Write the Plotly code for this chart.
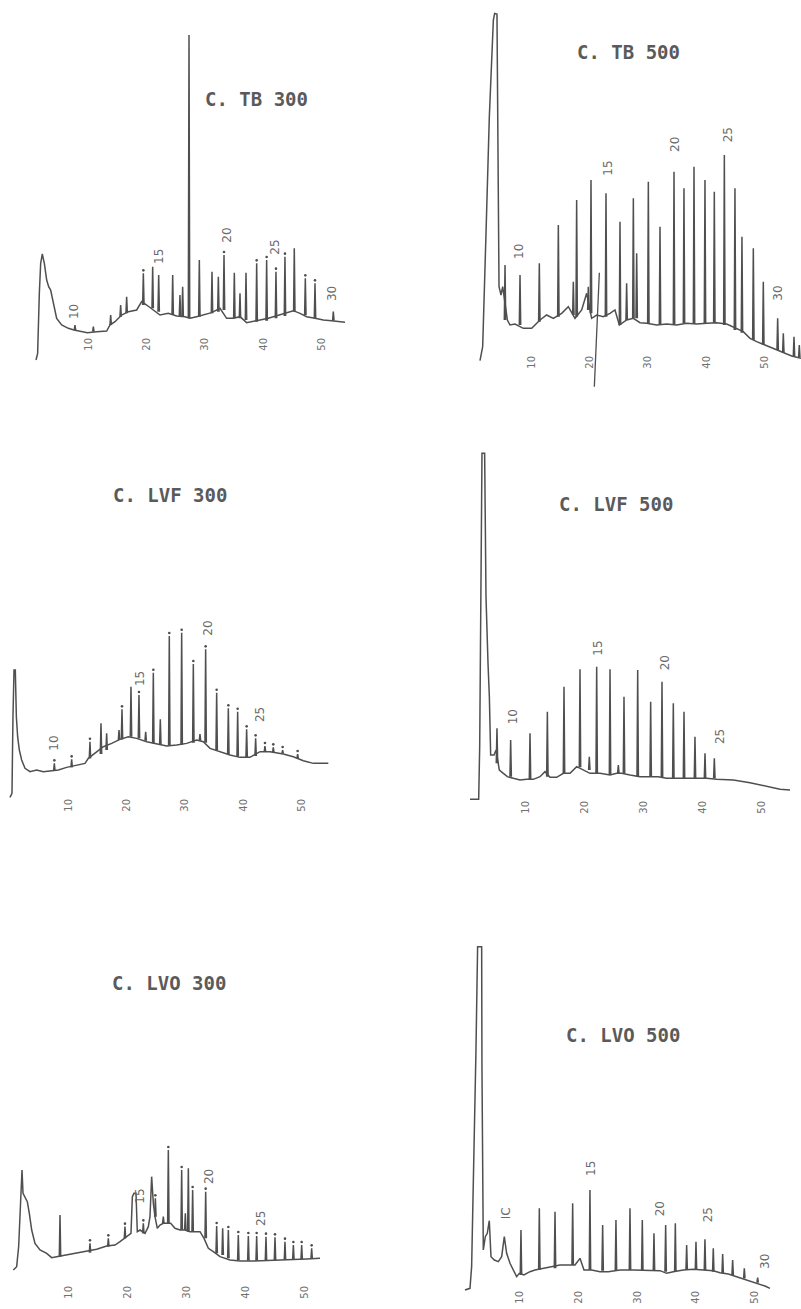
import plotly.graph_objects as go

# ---------------- DATA (retention time in min, detector response in arbitrary units) -------------
TICK_VALS = [10, 20, 30, 40, 50]
TICK_TEXT = ["10", "20", "30", "40", "50"]

# C. TB 300
P1_base_t = [1.03,1.31,1.6,1.83,2.11,2.46,2.86,3.2,3.54,4.0,4.57,5.43,6.57,7.54,8.57,9.83,11.43,13.14,13.71,14.57,15.71,16.86,18.29,19.14,20.0,21.14,22.29,23.71,25.14,26.57,27.43,28.57,29.71,31.14,32.57,33.71,34.86,36.0,37.14,38.29,39.43,40.86,42.29,43.71,45.14,46.29,47.43,48.86,50.29,51.71,52.86,54.0]
P1_base_v = [0,2,20,29,31.8,29,24,22,21,17,12.5,10.5,9.5,9,8.7,8.2,8.5,8.7,10.5,11.5,13.5,14.5,15,17.5,16.5,15,13.5,14,13.2,13,12.5,13,13.5,14.2,15.5,12.5,12.5,13,11.2,11.5,12,12.5,13.2,14,14.8,14,13,12.5,12,11.8,11.5,11.3]
P1_peak_t = [7.71,10.86,13.83,15.54,16.57,19.43,21.03,22.06,24.46,25.71,26.17,27.26,29.03,31.2,32.29,33.26,35.03,36.0,37.03,38.86,40.57,42.17,43.71,45.31,47.2,48.86,52.0]
P1_peak_top = [10.5,10,13.5,16.5,19,26,28,25.5,25.5,19.5,22,97.5,30,26.5,25,31.5,26.2,20,26.2,29,30,26.5,31,33.5,24.5,23,14.5]
P1_peak_base = [9,8.5,10.5,13,14,16.5,15.5,14.5,13.5,13.2,13.2,12.5,13,14,14.5,15,12.5,12.5,12,11.5,11.8,12.5,13.2,14.5,13.5,12.5,11.8]
P1_peak_dot = [0,0,0,0,0,1,0,0,0,0,0,0,0,0,0,1,0,0,0,1,1,1,1,0,1,1,0]
P1_lab_text = ["10","15","20","25","30"]
P1_lab_t = [7.43,22.0,33.71,42.0,51.9]
P1_lab_v = [14.5,31,37.5,34,20]

# C. TB 500
P2_base_t = [1.2,1.66,2.23,2.8,3.49,3.71,4.11,4.23,4.29,4.46,4.8,5.09,5.89,6.34,7.2,8.63,10.06,11.49,12.63,13.77,15.2,16.34,17.49,18.63,19.49,20.34,21.2,22.34,23.49,24.34,25.09,26.34,27.49,28.63,29.77,31.49,33.2,34.91,36.63,38.34,40.06,41.77,43.49,45.2,46.34,47.49,48.63,50.06,51.49,53.2,54.63,56.23]
P2_base_v = [-0.2,4,38,73,102,104,103.8,78,46,22,19.5,22,12,10.5,10.8,9.5,9.5,12,13.5,12.5,14,16,12.5,15,20,12.5,13.5,13,14,15,10.5,12,12.5,11.2,11,10.5,10.8,10.5,11,10.8,11,11.2,10.8,9.5,8.5,6.5,5.5,4.5,3.5,2.2,1.2,0.5]
P2_peak_t = [5.49,8.06,11.37,14.63,17.2,17.77,19.77,20.23,22.8,25.2,26.34,27.49,28.06,30.06,32.06,34.46,36.17,37.89,39.77,41.37,43.09,44.91,46.11,48.06,49.77,52.23,53.2,55.03,55.94]
P2_peak_top = [28.5,25.5,29,40.5,23.5,48,22,54,50,41.5,23,48.5,32,53.5,40,56.5,51.5,58,54,50.5,61.5,51.5,37,33.5,23.5,12.5,8,7,4.5]
P2_peak_base = [12,10.5,11.5,13,13.5,13,15,14,13,10.5,12,12.5,12.5,11,10.8,10.5,11,10.8,11,11.2,10.5,9,8.2,6,4.5,3,2.2,1.2,0.8]
P2_peak_dot = [0]*29
P2_stroke_t = [21.66, 20.8]
P2_stroke_v = [26.2, -8]
P2_lab_text = ["10","15","20","25","30"]
P2_lab_t = [7.77,23.2,34.63,43.77,52.34]
P2_lab_v = [32.5,57.5,64.5,67.5,20]

# C. LVF 300
P3_base_t = [0,0.34,0.51,0.69,0.91,1.09,1.31,1.6,2.0,2.57,3.43,4.57,5.71,6.86,8.29,9.71,11.43,12.86,13.43,14.57,16.0,17.43,18.86,20.29,21.71,23.43,25.14,26.86,28.57,30.29,32.0,33.14,34.29,36.0,37.71,39.43,41.14,42.86,44.57,46.86,48.57,50.29,52.0,54.57]
P3_base_v = [-0.2,1,24,38,38,24,18,14,11,8.5,7.5,8,7.5,7.8,8,8.8,9.5,10,11.5,13,15,16,17.2,18,17.5,16.5,15.8,15.2,15.5,16,17,16.5,14.5,13.5,12.5,11.8,11.8,13.5,13.5,12.8,12,10.8,10,10]
P3_peak_t = [7.6,10.57,13.71,15.6,16.57,18.69,19.2,20.74,22.11,23.26,24.57,25.77,27.31,29.43,31.43,32.57,33.54,35.43,37.43,39.03,40.57,42.11,43.71,45.14,46.74,49.31]
P3_peak_top = [10,11.2,16.5,22,19,20,26.2,33,30.5,19.5,37.2,23.2,48.2,49.2,39.8,18.8,44.2,31.2,26.5,25.5,20.2,17.5,15.2,14.8,14,12.8]
P3_peak_base = [7.8,8.8,11.5,12.8,14,17,17.2,18,17.5,16.8,16,15.5,15.2,15.5,16.2,16.8,16.2,14,12.8,12,11.8,12.2,13.5,13.3,13,11.5]
P3_peak_dot = [1,1,1,0,0,0,1,0,1,0,1,0,1,1,1,0,1,1,1,1,1,1,1,1,1,1]
P3_lab_text = ["10","15","20","25"]
P3_lab_t = [7.54,22.4,34.0,42.86]
P3_lab_v = [16.2,35.5,50.5,24.5]

# C. LVF 500
P4_base_t = [0.51,1.98,2.15,2.37,2.54,2.99,3.22,3.56,3.79,4.01,4.58,4.92,5.48,6.16,6.84,7.85,8.98,10.11,11.24,12.37,13.22,14.07,15.2,16.33,17.46,18.59,19.6,20.85,22.54,24.24,25.37,26.21,27.63,29.32,31.02,32.43,33.84,35.54,37.23,38.93,40.62,42.32,45.14,47.97,50.79,53.05,54.75]
P4_base_v = [0.2,0.2,16,61,104,104,61,41,31,13.5,13.5,15,9,8,7,6.5,6,6.2,6.2,7,8.5,6.8,6.8,8,8,10,9,8,8,7.5,8,8,7.5,7,7,7,6.5,6.5,6.5,6.5,6.5,6.2,6,5.2,4,3.2,3]
P4_peak_t = [5.08,7.4,10.68,13.62,16.44,19.15,20.73,21.98,24.24,25.65,26.61,28.93,31.13,33.05,34.97,36.78,38.64,40.34,41.92]
P4_peak_top = [21.5,18,20,26.5,34,39.2,13,40,39.2,10.5,31,39,29.5,35.5,29,26.5,19,14,12.5]
P4_peak_base = [11,7,6.2,7,8,9.8,9,8,7.5,8,8,7,7,6.8,6.5,6.5,6.5,6.5,6.5]
P4_peak_dot = [0]*19
P4_lab_text = ["10","15","20","25"]
P4_lab_t = [7.74,22.26,33.56,42.77]
P4_lab_v = [25,45.5,41,19]

# C. LVO 300
P5_base_t = [0.68,1.24,1.58,1.81,1.98,2.15,2.32,2.66,3.05,3.39,3.79,4.35,5.2,6.33,7.18,8.02,9.72,11.41,13.11,14.8,16.5,17.91,18.76,19.89,20.62,20.85,21.13,21.47,21.69,22.15,23.0,23.56,23.84,24.12,24.41,24.69,25.08,25.54,26.1,26.67,27.34,28.08,28.93,29.77,30.62,31.47,32.32,33.0,33.73,34.58,35.71,37.4,39.1,41.36,43.62,45.88,48.14,50.4,52.66]
P5_base_v = [0,1,7,17,23,30,23,22,20.5,17,12,8,6,5,3.7,4,4.5,5,5.5,6.2,7.2,7.5,8.5,10,11,22,23,23,11.5,12,11,13,16,28,20,16,12.5,13.5,14,14,14,12.5,12,12,11.5,11.5,11.5,9.5,6.5,5.5,4,3,2.7,2.7,2.8,3,3.2,3.3,3.5]
P5_peak_t = [8.59,13.67,16.78,19.6,22.71,24.75,26.1,26.95,29.21,29.83,30.34,31.07,33.28,35.14,36.16,37.12,38.81,40.51,41.92,43.5,45.03,46.72,48.14,49.55,51.24]
P5_peak_top = [16.5,8,9.5,13,14,21.5,16,36,30,17,30.5,24,23.5,13.2,12.5,12,10.5,10.2,10.2,10,9.8,8.5,7.5,7.5,6.5]
P5_peak_base = [4,5.2,7,9.5,11,16,14,14,12,12,11.5,11.5,9.5,5,4.5,3.5,3,2.8,2.8,2.8,3,3,3.2,3.2,3.3]
P5_peak_dot = [0,1,1,1,1,1,0,1,1,0,0,1,1,1,0,1,1,1,1,1,1,1,1,1,1]
P5_lab_text = ["15","20","25"]
P5_lab_t = [22.15,33.73,42.77]
P5_lab_v = [22,28,15.5]

# C. LVO 500
P6_base_t = [0.63,1.48,1.76,2.16,2.5,2.78,3.47,3.52,3.58,3.75,4.09,4.43,4.77,5.06,5.63,6.31,6.88,7.33,7.73,8.3,9.43,9.89,10.68,11.7,12.56,13.98,15.11,16.82,17.95,19.38,20.23,20.91,22.22,23.64,25.06,27.05,29.32,31.59,33.86,35.0,36.14,37.84,39.55,41.25,42.95,44.09,45.51,46.93,48.35,49.77,50.91,51.76,52.61]
P6_base_v = [0,0.5,7,37,72,103,103,67,37,12,16,17,20.8,10,9,8.5,10,16,11,8,4,5,4.5,5.5,6,6.5,7,7.5,7.5,7.5,9.5,6,6,5.5,5.5,6,6,6,5.8,5,5.5,6,6.2,6,5.8,5.2,4.8,4,3.2,2.5,1.8,1.2,0.5]
P6_peak_t = [10.17,13.3,15.97,18.98,21.93,24.09,26.36,28.75,30.85,32.84,34.83,36.48,38.41,40.0,41.53,42.95,44.55,46.25,48.24,50.51]
P6_peak_top = [18,24.5,23.5,26,30,19.5,21,24.5,21,17,19.5,20,13.5,14.5,15.2,12.5,10.8,9,6.5,3.7]
P6_peak_base = [4.5,6,6.5,7.5,6,5.8,5.8,6,6,5.8,5.5,5.5,6,6.2,6,5.5,5,4.5,3.5,2.2]
P6_peak_dot = [0]*20
P6_lab_text = ["IC","15","20","25","30"]
P6_lab_t = [7.61,22.22,33.86,42.1,51.76]
P6_lab_v = [23,36.5,24.5,22.5,8.7]

TITLES = ["C. TB 300", "C. TB 500", "C. LVF 300", "C. LVF 500", "C. LVO 300", "C. LVO 500"]
TITLE_T = [38.9, 26.7, 27.43, 25.2, 27.0, 27.5]
TITLE_V = [78.3, 92.5, 90.5, 88.8, 86.2, 76.5]

# ---------------- LAYOUT / STYLE -----------------------------------------------------------
W, H = 801, 1309
PPU = 10.0 / 3.0          # px per response unit
INK = "#4f4f4f"
SPIKE_HW = 0.12           # half width of a spike foot (min)

panels = [
    dict(bt=P1_base_t, bv=P1_base_v, pt=P1_peak_t, ptop=P1_peak_top, pbase=P1_peak_base, pdot=P1_peak_dot,
         lt=P1_lab_t, lv=P1_lab_v, ltxt=P1_lab_text, x0=30.0, ppm=5.833, y0=360.0, box=(0, 400, 0, 410), tick=335),
    dict(bt=P2_base_t, bv=P2_base_v, pt=P2_peak_t, ptop=P2_peak_top, pbase=P2_peak_base, pdot=P2_peak_dot,
         lt=P2_lab_t, lv=P2_lab_v, ltxt=P2_lab_text, x0=473.0, ppm=5.833, y0=360.0, box=(400, 801, 0, 410), tick=353),
    dict(bt=P3_base_t, bv=P3_base_v, pt=P3_peak_t, ptop=P3_peak_top, pbase=P3_peak_base, pdot=P3_peak_dot,
         lt=P3_lab_t, lv=P3_lab_v, ltxt=P3_lab_text, x0=10.0, ppm=5.833, y0=796.7, box=(0, 400, 415, 850), tick=796),
    dict(bt=P4_base_t, bv=P4_base_v, pt=P4_peak_t, ptop=P4_peak_top, pbase=P4_peak_base, pdot=P4_peak_dot,
         lt=P4_lab_t, lv=P4_lab_v, ltxt=P4_lab_text, x0=467.0, ppm=5.9, y0=800.0, box=(400, 801, 415, 850), tick=798),
    dict(bt=P5_base_t, bv=P5_base_v, pt=P5_peak_t, ptop=P5_peak_top, pbase=P5_peak_base, pdot=P5_peak_dot,
         lt=P5_lab_t, lv=P5_lab_v, ltxt=P5_lab_text, x0=9.33, ppm=5.9, y0=1270.0, box=(0, 400, 860, 1309), tick=1283),
    dict(bt=P6_base_t, bv=P6_base_v, pt=P6_peak_t, ptop=P6_peak_top, pbase=P6_peak_base, pdot=P6_peak_dot,
         lt=P6_lab_t, lv=P6_lab_v, ltxt=P6_lab_text, x0=461.3, ppm=5.867, y0=1290.0, box=(400, 801, 860, 1309), tick=1288),
]

fig = go.Figure()
layout = dict(width=W, height=H, margin=dict(l=0, r=0, t=0, b=0), paper_bgcolor="white",
              plot_bgcolor="white", showlegend=False, annotations=[])
line_style = dict(color=INK, width=1.5)

for i, p in enumerate(panels, start=1):
    xa = "x" if i == 1 else f"x{i}"
    ya = "y" if i == 1 else f"y{i}"
    L, R, T, B = p["box"]

    # baseline / continuous trace
    fig.add_trace(go.Scatter(x=p["bt"], y=p["bv"], mode="lines", line=line_style,
                             xaxis=xa, yaxis=ya, hoverinfo="skip"))
    # peaks
    sx, sy = [], []
    for t, top, base in zip(p["pt"], p["ptop"], p["pbase"]):
        sx += [t - SPIKE_HW, t, t + SPIKE_HW, None]
        sy += [base, top, base, None]
    fig.add_trace(go.Scatter(x=sx, y=sy, mode="lines", line=line_style,
                             xaxis=xa, yaxis=ya, hoverinfo="skip"))
    # peak marker dots
    dx = [t for t, d in zip(p["pt"], p["pdot"]) if d]
    dy = [top + 0.9 for top, d in zip(p["ptop"], p["pdot"]) if d]
    if dx:
        fig.add_trace(go.Scatter(x=dx, y=dy, mode="markers",
                                 marker=dict(color=INK, size=2.6), xaxis=xa, yaxis=ya, hoverinfo="skip"))
    if i == 2:
        fig.add_trace(go.Scatter(x=P2_stroke_t, y=P2_stroke_v, mode="lines", line=dict(color=INK, width=1.3),
                                 xaxis=xa, yaxis=ya, hoverinfo="skip"))

    xr = [(L - p["x0"]) / p["ppm"], (R - p["x0"]) / p["ppm"]]
    yr = [(p["y0"] - B) / PPU, (p["y0"] - T) / PPU]
    key = "" if i == 1 else str(i)
    layout["xaxis" + key] = dict(domain=[L / W, R / W], range=xr, anchor="free",
                                 position=1 - p["tick"] / H, tickvals=TICK_VALS, ticktext=TICK_TEXT,
                                 tickangle=-90, ticks="", showgrid=False, zeroline=False, showline=False,
                                 tickfont=dict(family="DejaVu Sans", size=10, color="#707070"))
    layout["yaxis" + key] = dict(domain=[1 - B / H, 1 - T / H], range=yr, anchor=xa, visible=False,
                                 showgrid=False, zeroline=False)

    for t, v, txt in zip(p["lt"], p["lv"], p["ltxt"]):
        layout["annotations"].append(dict(x=t, y=v, xref=xa, yref=ya, text=txt, showarrow=False,
                                          textangle=-90,
                                          font=dict(family="DejaVu Sans", size=12, color="#6a6a6a")))
    layout["annotations"].append(dict(x=TITLE_T[i - 1], y=TITLE_V[i - 1], xref=xa, yref=ya,
                                      text="<b>" + TITLES[i - 1] + "</b>", showarrow=False,
                                      font=dict(family="DejaVu Sans Mono", size=19, color="#5a5a5a")))

fig.update_layout(**layout)
fig.write_html("out.html", config={"displayModeBar": False},
               post_script="document.body.style.margin='0';document.body.style.overflow='hidden';")
